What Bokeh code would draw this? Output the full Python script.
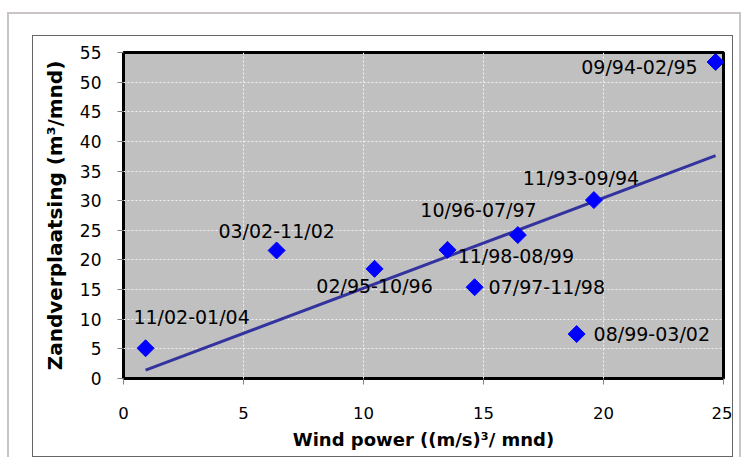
import numpy as np
from bokeh.plotting import figure
from bokeh.models import Range1d, ColumnDataSource
from bokeh.layouts import column
from bokeh.core.properties import value
from bokeh.embed import file_html
from bokeh.resources import INLINE

# ---- data ----
periods = ["11/02-01/04", "03/02-11/02", "02/95-10/96", "10/96-07/97", "07/97-11/98",
           "11/98-08/99", "08/99-03/02", "11/93-09/94", "09/94-02/95"]
wind_power = [0.92, 6.38, 10.46, 13.5, 14.63, 16.43, 18.88, 19.6, 24.67]
sand_transport = [5.1, 21.6, 18.5, 21.7, 15.4, 24.2, 7.5, 30.1, 53.4]
x_ticks = [0, 5, 10, 15, 20, 25]
y_ticks = list(range(0, 60, 5))

# label placement (layout only, screen pixels relative to marker)
label_align = ["center", "center", "center", "center", "left", "center", "left", "center", "right"]
label_dx = [46, 0, 0, 31, 14, -2, 17, -13, -18]
label_dy = [-31, -19, 17, -40, 0, 21, 0, -22, 5]

# linear trend forced through the origin (as in the original spreadsheet chart)
xa = np.array(wind_power)
ya = np.array(sand_transport)
slope = float((xa * ya).sum() / (xa * xa).sum())
trend_x = [float(xa.min()), float(xa.max())]
trend_y = [slope * v for v in trend_x]

FONT = "DejaVu Sans"

p = figure(width=699, height=420, x_range=Range1d(0, 25), y_range=Range1d(0, 55),
           output_backend="svg", toolbar_location=None,
           min_border_left=90, min_border_right=9, min_border_top=16, min_border_bottom=78)

p.background_fill_color = "#c0c0c0"
p.border_fill_color = "white"
p.outline_line_color = "black"
p.outline_line_width = 3

p.xaxis.ticker = x_ticks
p.yaxis.ticker = y_ticks
for ax in (p.xaxis[0], p.yaxis[0]):
    ax.axis_line_color = None
    ax.major_tick_line_color = "#808080"
    ax.major_tick_in = 0
    ax.major_tick_out = 6
    ax.minor_tick_line_color = None
    ax.major_label_text_font = FONT
    ax.major_label_text_color = "black"
    ax.axis_label_text_font = FONT
    ax.axis_label_text_font_style = "bold"
    ax.axis_label_text_color = "black"

p.xaxis.major_label_text_font_size = "16.5px"
p.yaxis.major_label_text_font_size = "17px"
p.xaxis.major_label_standoff = 22
p.yaxis.major_label_standoff = 16
p.xaxis.axis_label = "Wind power ((m/s)³/ mnd)"
p.xaxis.axis_label_text_font_size = "18px"
p.xaxis.axis_label_standoff = 7
p.yaxis.axis_label = "Zandverplaatsing (m³/mnd)"
p.yaxis.axis_label_text_font_size = "20px"
p.yaxis.axis_label_standoff = 10

for g in (p.xgrid[0], p.ygrid[0]):
    g.grid_line_color = "#f2f2f2"
    g.grid_line_dash = "2 2"
    g.grid_line_width = 1

p.line(trend_x, trend_y, line_color="#33339f", line_width=3)

src = ColumnDataSource(dict(x=wind_power, y=sand_transport, t=periods,
                            al=label_align, dx=label_dx, dy=label_dy))
p.scatter("x", "y", source=src, marker="square", angle=np.pi / 4, size=12,
          fill_color="#0000ff", line_color="#0000ff")
p.text("x", "y", text="t", source=src, text_align="al", text_baseline="middle",
       x_offset="dx", y_offset="dy", text_font=value(FONT), text_font_size="19px",
       text_color="black")

# chart-area box and outer frame drawn as CSS shadows around the figure
p.styles = {"box-shadow": "0 0 0 1px #666666, -8.5px -6.5px 0 15.5px #ffffff, "
                          "-8.5px -6.5px 0 17.5px #cbc4c4"}
page = column(p, styles={"padding": "36px 10px 0px 33px"})

open("out.html", "w").write(file_html(page, INLINE))
